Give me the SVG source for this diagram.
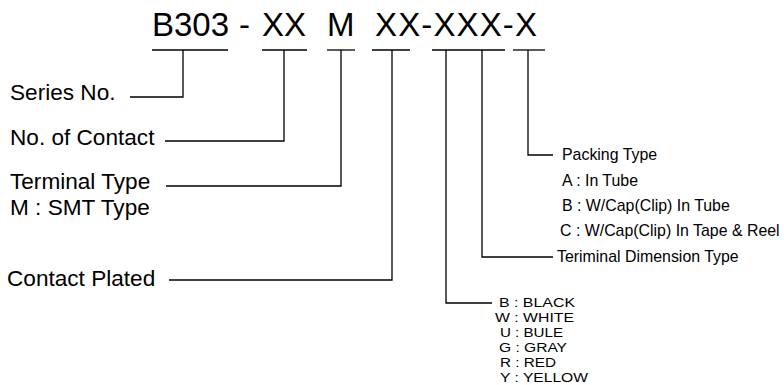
<svg xmlns="http://www.w3.org/2000/svg" width="784" height="385" viewBox="0 0 784 385">
<style>
text{font-family:"Liberation Sans",Arial,sans-serif;fill:#000}
.t{font-size:33px}
.l{font-size:22.6px}
.s{font-size:15.9px}
.c{font-size:13.4px}
line,polyline{stroke:#000;stroke-width:1.3;fill:none}
</style>
<rect width="784" height="385" fill="#fff"/>
<g id="title">
<text class="t" x="152" y="36">B303</text>
<text class="t" x="239" y="36">-</text>
<text class="t" x="262" y="36">XX</text>
<text class="t" x="327" y="36">M</text>
<text class="t" x="375" y="36" textLength="162" lengthAdjust="spacing">XX-XXX-X</text>
</g>
<g id="underlines">
<line x1="152" y1="50" x2="228" y2="50"/>
<line x1="262" y1="50" x2="307" y2="50"/>
<line x1="327" y1="50" x2="355" y2="50"/>
<line x1="372" y1="50" x2="410" y2="50"/>
<line x1="432" y1="50" x2="505" y2="50"/>
<line x1="513" y1="50" x2="545" y2="50"/>
</g>
<g id="series"><text class="l" x="10" y="100">Series No.</text></g>
<g id="contact"><text class="l" x="10" y="145">No. of Contact</text></g>
<g id="terminal"><text class="l" x="10" y="189">Terminal Type</text><text class="l" x="10" y="215">M : SMT Type</text></g>
<g id="plated"><text class="l" x="7" y="286">Contact Plated</text></g>
<g id="packing">
<text class="s" x="562" y="160">Packing Type</text>
<text class="s" x="562" y="186">A : In Tube</text>
<text class="s" x="562" y="211">B : W/Cap(Clip) In Tube</text>
<text class="s" x="560" y="236">C : W/Cap(Clip) In Tape &amp; Reel</text>
</g>
<g id="dimension"><text class="s" x="557" y="262">Teriminal Dimension Type</text></g>
<g id="colors">
<text class="c" x="499" y="307" textLength="76" lengthAdjust="spacingAndGlyphs">B : BLACK</text>
<text class="c" x="495" y="322" textLength="79" lengthAdjust="spacingAndGlyphs">W : WHITE</text>
<text class="c" x="500" y="337" textLength="63" lengthAdjust="spacingAndGlyphs">U : BULE</text>
<text class="c" x="499" y="352" textLength="68" lengthAdjust="spacingAndGlyphs">G : GRAY</text>
<text class="c" x="500" y="367" textLength="56" lengthAdjust="spacingAndGlyphs">R : RED</text>
<text class="c" x="500" y="382" textLength="88" lengthAdjust="spacingAndGlyphs">Y : YELLOW</text>
</g>
<g id="connectors">
<polyline points="183,50 183,97 130,97"/>
<polyline points="284,50 284,141 165,141"/>
<polyline points="341,50 341,186 166,186"/>
<polyline points="392,50 392,280 169,280"/>
<polyline points="446,50 446,303 492,303"/>
<polyline points="482,50 482,257 553,257"/>
<polyline points="528,50 528,155 553,155"/>
</g>
</svg>
